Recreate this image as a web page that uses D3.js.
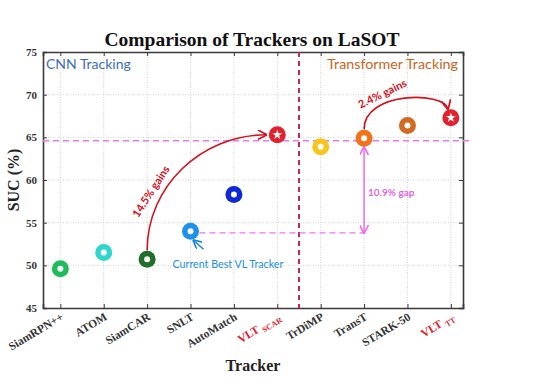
<!DOCTYPE html>
<html><head><meta charset="utf-8">
<script src="https://cdn.jsdelivr.net/npm/d3@7"></script>
<style>
body{margin:0;background:#fff;}
svg{display:block;}
</style></head>
<body>
<svg id="chart" width="538" height="379"></svg>
<script>
// ---- data ----
const trackers = ["SiamRPN++","ATOM","SiamCAR","SNLT","AutoMatch","VLT_SCAR","TrDiMP","TransT","STARK-50","VLT_TT"];
const suc = [49.6, 51.5, 50.7, 54.0, 58.3, 65.3, 63.9, 64.9, 66.4, 67.3];
const markerColors = ["#1dbb5a","#2fd6c9","#1f6e2a","#1e92ea","#1029d8","#e3202b","#f7c51c","#f27317","#d26a21","#e3202b"];
const isOurs = [false,false,false,false,false,true,false,false,false,true];
const yTicks = [45,50,55,60,65,70,75];
const refLine = 64.6;      // horizontal dashed reference (best transformer level)
const vlBest = 53.8;       // level of current best VL tracker gap line
const splitPos = 6.5;      // boundary CNN / Transformer

const svg = d3.select("#chart");
const L = 43, T = 52, R = 463, B = 308;

const x = d3.scaleLinear().domain([0.6, 10.28]).range([L, R]);
const y = d3.scaleLinear().domain([45, 75]).range([B, T]);
const idx = trackers.map((d,i)=>i+1);

// defs for arrowheads
const defs = svg.append("defs");
function arrow(id, color){
  defs.append("marker").attr("id",id).attr("viewBox","0 0 10 10").attr("refX",9).attr("refY",5)
    .attr("markerWidth",6).attr("markerHeight",6).attr("orient","auto-start-reverse")
    .append("path").attr("d","M0,0 L10,5 L0,10").attr("fill","none").attr("stroke",color).attr("stroke-width",1.8);
}
arrow("arRed","#d4101e");
arrow("arMag","#ee6bee");
arrow("arBlue","#1a86d6");

// grid
const grid = svg.append("g");
grid.selectAll("line.gx").data(idx).join("line")
  .attr("x1",d=>x(d)).attr("x2",d=>x(d)).attr("y1",T).attr("y2",B)
  .attr("stroke","#d2d2d2").attr("stroke-width",1).attr("stroke-dasharray","1,1.5");
grid.selectAll("line.gy").data(yTicks.slice(1,-1)).join("line")
  .attr("x1",L).attr("x2",R).attr("y1",d=>y(d)).attr("y2",d=>y(d))
  .attr("stroke","#d2d2d2").attr("stroke-width",1).attr("stroke-dasharray","1,1.5");

// axes
const axL = svg.append("g").attr("transform",`translate(${L},0)`)
  .call(d3.axisLeft(y).tickValues(yTicks).tickSize(-4).tickPadding(6).tickFormat(d3.format("d")));
const axR = svg.append("g").attr("transform",`translate(${R},0)`)
  .call(d3.axisRight(y).tickValues(yTicks).tickSize(-4).tickFormat(""));
const axB = svg.append("g").attr("transform",`translate(0,${B})`)
  .call(d3.axisBottom(x).tickValues(idx).tickSize(-4).tickFormat(""));
const axT = svg.append("g").attr("transform",`translate(0,${T})`)
  .call(d3.axisTop(x).tickValues(idx).tickSize(-4).tickFormat(""));
[axL,axR,axB,axT].forEach(g=>{
  g.select(".domain").attr("stroke","#3a3a3a").attr("stroke-width",1.6);
  g.selectAll(".tick line").attr("stroke","#3a3a3a").attr("stroke-width",1);
});
axL.selectAll("text").attr("font-family","Liberation Serif").attr("font-weight","bold")
  .attr("font-size",11).attr("fill","#333");

// x tick labels (rotated)
const xl = svg.append("g");
trackers.forEach((t,i)=>{
  const tx = xl.append("text")
    .attr("transform",`translate(${x(i+1)+4},${B+11}) rotate(-31)`)
    .attr("text-anchor","end").attr("font-family","Liberation Serif").attr("font-weight","bold")
    .attr("font-size",11.5).attr("fill", isOurs[i] ? "#e3202b" : "#333");
  if (t.includes("_")) {
    const [a,b] = t.split("_");
    tx.append("tspan").text(a);
    tx.append("tspan").attr("font-size",8).attr("dx",3).attr("dy",3).text(b);
  } else tx.text(t);
});

// split line
svg.append("line").attr("x1",x(splitPos)).attr("x2",x(splitPos)).attr("y1",T).attr("y2",B)
  .attr("stroke","#c8245a").attr("stroke-width",2).attr("stroke-dasharray","5,4");

// horizontal reference dashed line
svg.append("line").attr("x1",L).attr("x2",R+6).attr("y1",y(refLine)).attr("y2",y(refLine))
  .attr("stroke","#ef74ef").attr("stroke-width",1.4).attr("stroke-dasharray","6,4");

// gap dashed line from SNLT to TransT
svg.append("line").attr("x1",x(4)+9).attr("x2",x(8)).attr("y1",y(vlBest)).attr("y2",y(vlBest))
  .attr("stroke","#ef74ef").attr("stroke-width",1.4).attr("stroke-dasharray","6,4");

// gap double arrow
svg.append("line").attr("x1",x(8)).attr("x2",x(8)).attr("y1",y(suc[7])+9).attr("y2",y(vlBest))
  .attr("stroke","#ee6bee").attr("stroke-width",1.5)
  .attr("marker-start","url(#arMag)").attr("marker-end","url(#arMag)");
svg.append("text").attr("x",x(8)+4).attr("y",(y(suc[7])+y(vlBest))/2+10)
  .attr("font-family","Lato").attr("font-size",10).attr("font-weight","bold")
  .attr("fill","#e45fe4").text("10.9% gap");

// 14.5% gains arc: SiamCAR -> VLT_SCAR
{
  const x0 = x(3), y0 = y(suc[2]) - 9, x1 = x(6) - 11, y1 = y(suc[5]);
  svg.append("path")
    .attr("d",`M${x0},${y0} C${x0},${y0-(y0-y1)*0.55} ${x1-(x1-x0)*0.55},${y1} ${x1},${y1}`)
    .attr("fill","none").attr("stroke","#d4101e").attr("stroke-width",1.6)
    .attr("marker-end","url(#arRed)");
  svg.append("text").attr("transform",`translate(${x0+7},${(y0+y1)/2+1}) rotate(-57)`)
    .attr("text-anchor","middle").attr("font-family","Lato").attr("font-size",11).attr("font-weight","bold")
    .attr("fill","#d4101e").text("14.5% gains");
}
// 2.4% gains arc: TransT -> VLT_TT
{
  const x0 = x(8), y0 = y(suc[7]) - 9, x1 = x(10) - 3, y1 = y(suc[9]) - 9;
  svg.append("path")
    .attr("d",`M${x0},${y0} C${x0},${y0-38} ${x1-4},${y0-38} ${x1},${y1}`)
    .attr("fill","none").attr("stroke","#d4101e").attr("stroke-width",1.6)
    .attr("marker-end","url(#arRed)");
  svg.append("text").attr("transform",`translate(${x0+20},${y0-32}) rotate(-26)`)
    .attr("text-anchor","middle").attr("font-family","Lato").attr("font-size",11).attr("font-weight","bold")
    .attr("fill","#d4101e").text("2.4% gains");
}

// current best VL tracker annotation
svg.append("line").attr("x1",x(4)+13).attr("x2",x(4)+3).attr("y1",y(suc[3])+18).attr("y2",y(suc[3])+9)
  .attr("stroke","#1a86d6").attr("stroke-width",1.5).attr("marker-end","url(#arBlue)");
svg.append("text").attr("x",x(4)-18).attr("y",y(suc[3])+37)
  .attr("font-family","Lato").attr("font-size",10.7).attr("fill","#1a8fe3").text("Current Best VL Tracker");

// markers
const pts = svg.append("g").selectAll("g").data(idx).join("g")
  .attr("transform",d=>`translate(${x(d)},${y(suc[d-1])})`);
pts.append("circle").attr("r",8.5).attr("fill",d=>markerColors[d-1]);
pts.filter(d=>!isOurs[d-1]).append("circle").attr("r",3).attr("fill","#fff");
pts.filter(d=>isOurs[d-1]).append("path")
  .attr("d",d3.symbol().type(d3.symbolStar).size(30)).attr("fill","#fff");

// region labels
svg.append("text").attr("x",L+3).attr("y",T+17).attr("font-family","Lato").attr("font-size",14)
  .attr("fill","#3b6dbf").text("CNN Tracking");
svg.append("text").attr("x",R-5).attr("y",T+17).attr("text-anchor","end").attr("font-family","Lato").attr("font-size",14.3)
  .attr("fill","#c8651f").text("Transformer Tracking");

// title and axis labels
svg.append("text").attr("x",252).attr("y",46).attr("text-anchor","middle")
  .attr("font-family","Liberation Serif").attr("font-weight","bold").attr("font-size",19.5)
  .attr("fill","#111").text("Comparison of Trackers on LaSOT");
svg.append("text").attr("transform",`translate(19,${(T+B)/2}) rotate(-90)`).attr("text-anchor","middle")
  .attr("font-family","Liberation Serif").attr("font-weight","bold").attr("font-size",16)
  .attr("fill","#222").text("SUC (%)");
svg.append("text").attr("x",253).attr("y",371).attr("text-anchor","middle")
  .attr("font-family","Liberation Serif").attr("font-weight","bold").attr("font-size",16)
  .attr("fill","#222").text("Tracker");
</script>
</body></html>
